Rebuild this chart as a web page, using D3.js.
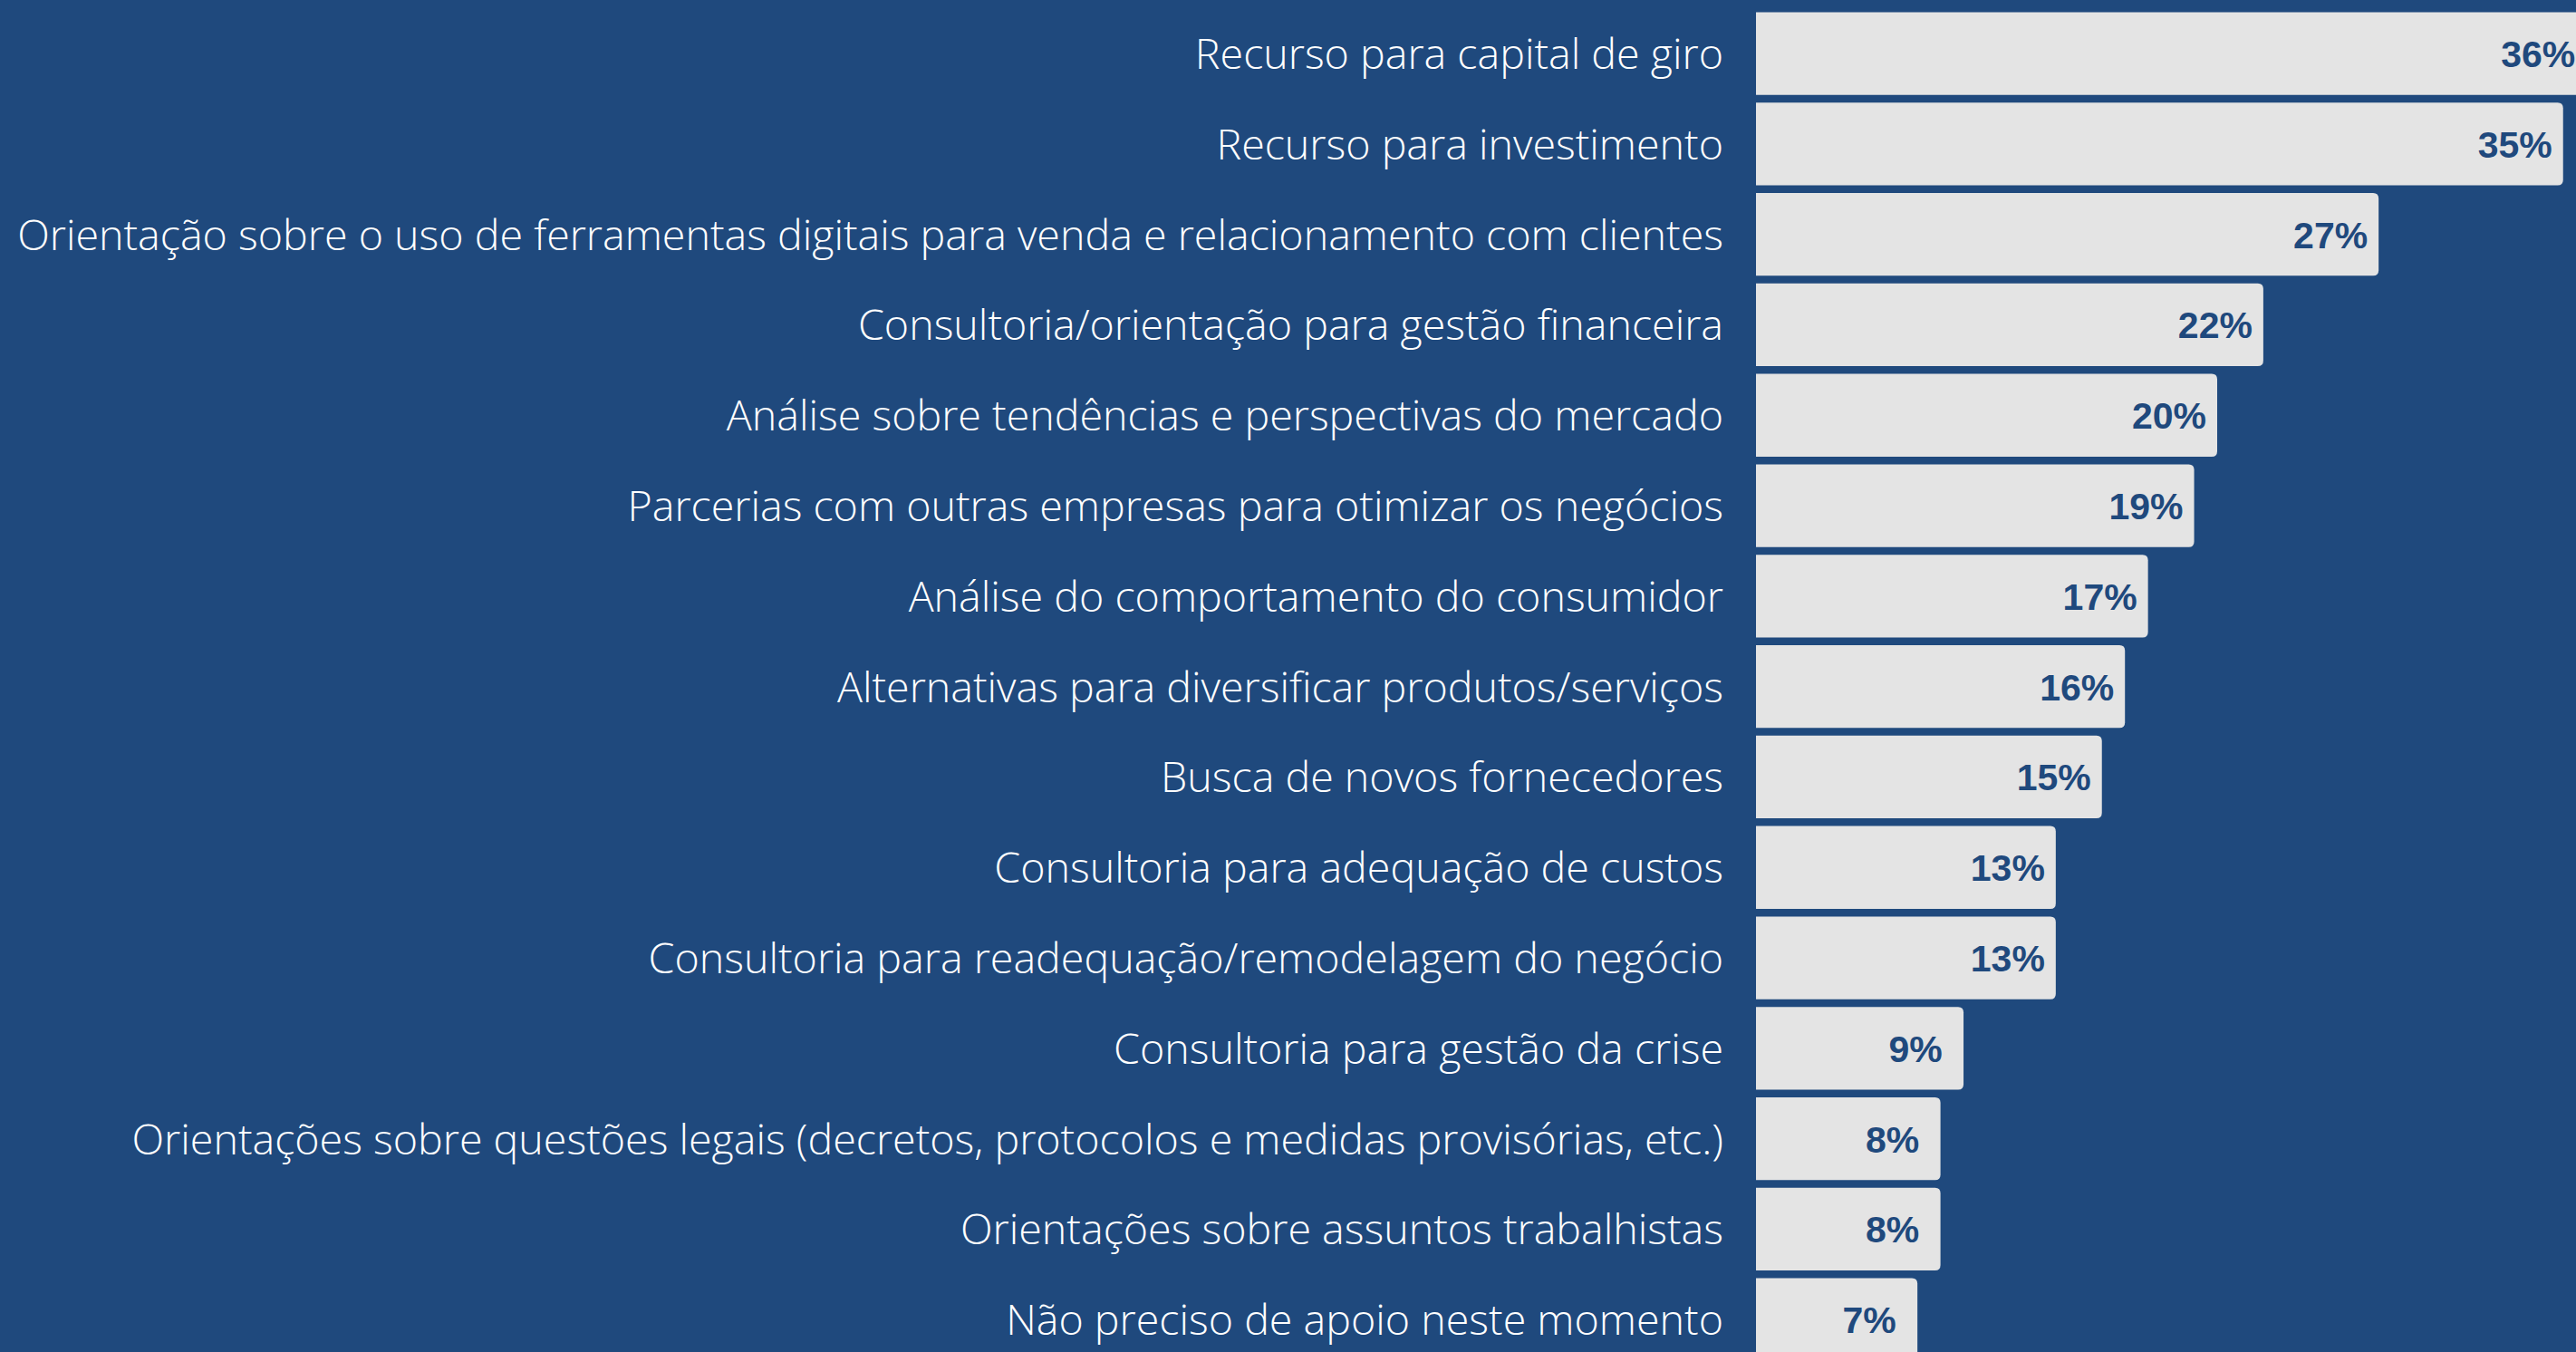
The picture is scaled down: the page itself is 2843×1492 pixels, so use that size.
<!DOCTYPE html>
<html>
<head>
<meta charset="utf-8">
<script src="https://cdn.jsdelivr.net/npm/d3@7"></script>
<style>
  html, body { margin: 0; padding: 0; background: #1f497d; }
  svg { display: block; }
</style>
</head>
<body>
<svg id="chart" width="2843" height="1492"></svg>
<script>
const categories = [
  "Recurso para capital de giro",
  "Recurso para investimento",
  "Orientação sobre o uso de ferramentas digitais para venda e relacionamento com clientes",
  "Consultoria/orientação para gestão financeira",
  "Análise sobre tendências e perspectivas do mercado",
  "Parcerias com outras empresas para otimizar os negócios",
  "Análise do comportamento do consumidor",
  "Alternativas para diversificar produtos/serviços",
  "Busca de novos fornecedores",
  "Consultoria para adequação de custos",
  "Consultoria para readequação/remodelagem do negócio",
  "Consultoria para gestão da crise",
  "Orientações sobre questões legais (decretos, protocolos e medidas provisórias, etc.)",
  "Orientações sobre assuntos trabalhistas",
  "Não preciso de apoio neste momento"
];
const values = [36, 35, 27, 22, 20, 19, 17, 16, 15, 13, 13, 9, 8, 8, 7];
const valueLabels = values.map(v => v + "%");

const W = 2843, H = 1492;
const BG = "#1f497d", BAR = "#e4e4e4";

const svg = d3.select("#chart");
svg.append("rect").attr("width", W).attr("height", H).attr("fill", BG);

const x = d3.scaleLinear().domain([0, 10]).range([1938, 1938 + 254.5]);
const y = d3.scaleBand()
  .domain(categories)
  .range([13.4, 1501.9])
  .paddingInner(0.085)
  .paddingOuter(0);

// bar with rounded right corners only
function barPath(x0, x1, y0, h, r) {
  r = Math.min(r, (x1 - x0) / 2, h / 2);
  return `M${x0},${y0}H${x1 - r}Q${x1},${y0} ${x1},${y0 + r}` +
         `V${y0 + h - r}Q${x1},${y0 + h} ${x1 - r},${y0 + h}H${x0}Z`;
}

const rows = svg.append("g").selectAll("g")
  .data(categories.map((c, i) => ({ c, v: values[i], label: valueLabels[i] })))
  .join("g");

rows.append("path")
  .attr("d", d => barPath(x(0), x(d.v), y(d.c), y.bandwidth(), 6))
  .attr("fill", BAR);

// value labels, centred a fixed distance inside the bar end
rows.append("text")
  .attr("x", d => x(d.v) - 53)
  .attr("y", d => y(d.c) + y.bandwidth() / 2 + 15)
  .attr("text-anchor", "middle")
  .attr("font-family", "'Liberation Sans', Arial, sans-serif")
  .attr("font-weight", "bold")
  .attr("font-size", 41)
  .attr("fill", BG)
  .text(d => d.label);

rows.append("text")
  .attr("x", 1902)
  .attr("y", d => y(d.c) + y.bandwidth() / 2 + 17)
  .attr("text-anchor", "end")
  .attr("font-family", "'Open Sans', sans-serif")
  .attr("font-weight", 300)
  .attr("font-size", 46.6)
  .attr("fill", "#ffffff")
  .text(d => d.c);
</script>
</body>
</html>
